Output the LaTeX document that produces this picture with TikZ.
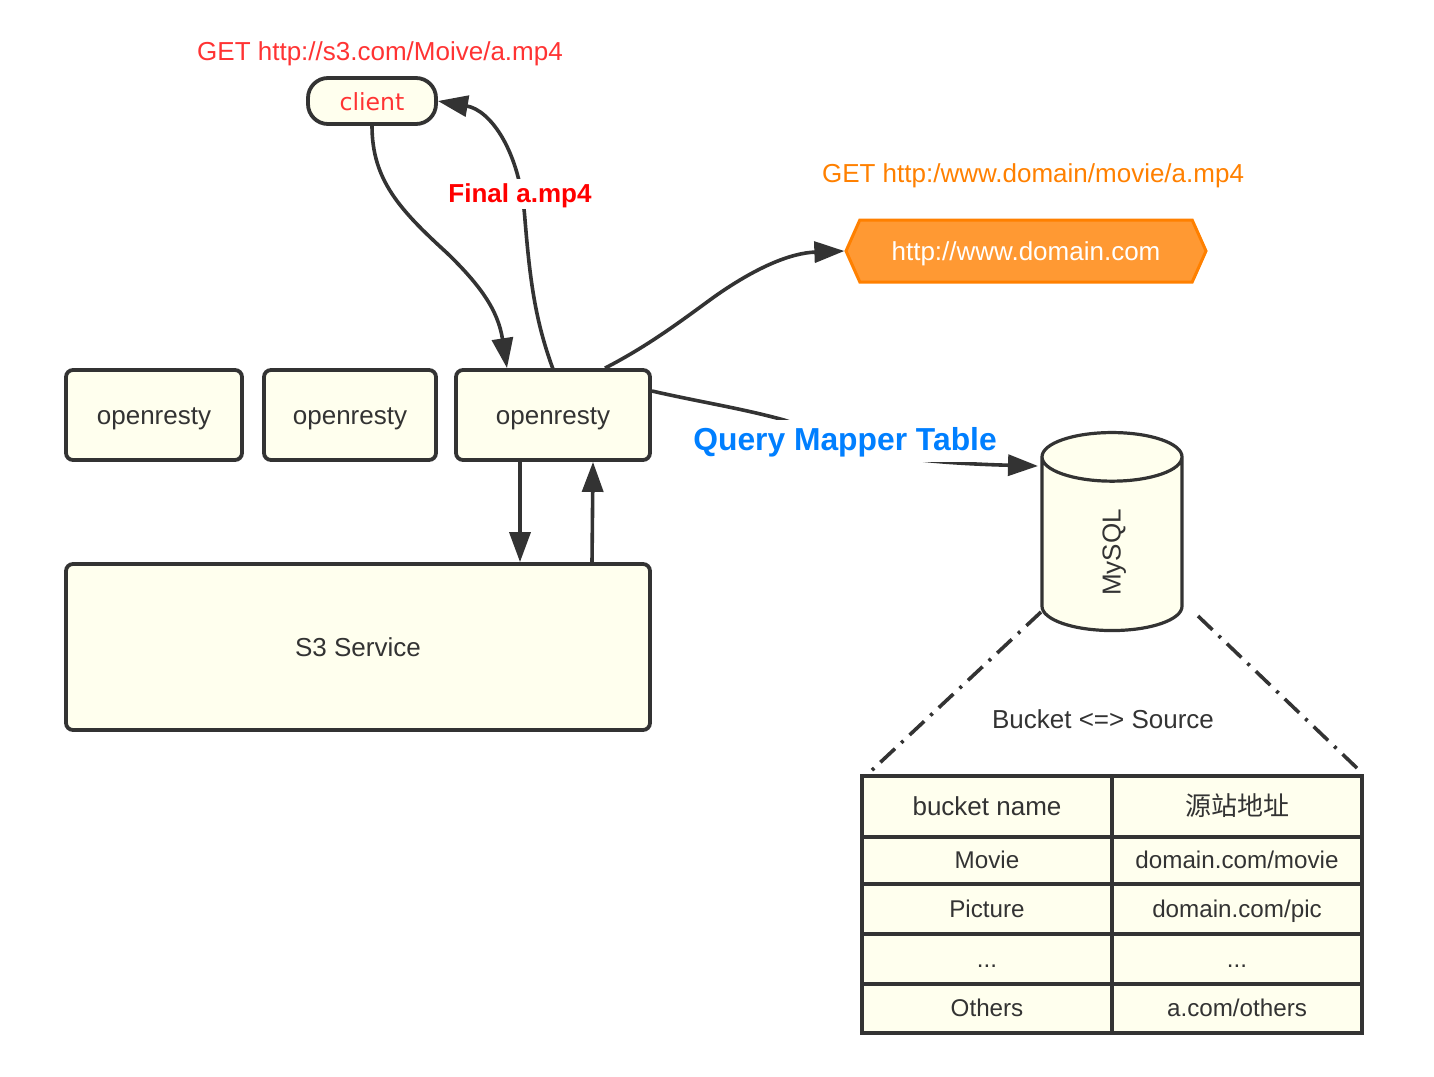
\documentclass[tikz,border=0pt]{standalone}
\usepackage{fontspec}
\setmainfont{Liberation Sans}
\newfontfamily\cjk{Noto Sans CJK SC}
\newfontfamily\dejavu{DejaVu Sans}
\usepackage{tikz}
\usetikzlibrary{arrows.meta,shapes.geometric,shapes.symbols}
\definecolor{boxfill}{HTML}{FFFFEE}
\definecolor{ink}{HTML}{333333}
\definecolor{getred}{HTML}{FF3333}
\definecolor{getorange}{HTML}{FF8000}
\definecolor{hexfill}{HTML}{FF9933}
\definecolor{queryblue}{HTML}{007FFF}
\tikzset{
  line13/.style={text height=9.5pt,text depth=0pt,font=\fontsize{13}{15}\selectfont},
  box/.style={draw=ink,fill=boxfill,line width=1.9pt,rounded corners=3.5pt,text=ink,line13,inner sep=0pt},
  cell/.style={draw=ink,fill=boxfill,line width=1.9pt,minimum width=125pt,inner sep=0pt,text=ink,text height=9pt,text depth=1pt,font=\fontsize{12.1}{15}\selectfont},
  conn/.style={draw=ink,line width=1.8pt,-{Triangle[length=15pt,width=10.5pt]}},
  plain/.style={text=ink,line13,inner sep=0pt},
  dashdot/.style={draw=ink,line width=1.8pt,dash pattern=on 10pt off 4.25pt on 1.5pt off 4.25pt},
}
\begin{document}
\begin{tikzpicture}[x=0.5pt,y=-0.5pt]
      \useasboundingbox (0,0) rectangle (1434,1076);
      % cajas
      \node[box,rounded corners=10pt,minimum width=64pt,minimum height=23pt,text=getred,font=\dejavu\fontsize{11.8}{15}\selectfont] (client) at (372,101) {client};
      \node[box,minimum width=88pt,minimum height=45pt] (op1) at (154,415) {openresty};
      \node[box,minimum width=86pt,minimum height=45pt] (op2) at (350,415) {openresty};
      \node[box,minimum width=97pt,minimum height=45pt] (op3) at (553,415) {openresty};
      \node[box,minimum width=292pt,minimum height=83pt] (s3) at (358,647) {S3 Service};
      \node[signal,signal to=west and east,signal pointer angle=132,draw=getorange,fill=hexfill,line width=1.5pt,text=white,inner sep=0pt,minimum width=180pt,minimum height=31pt,line13] (domain) at (1026,251) {http://www.domain.com};
      % base de datos
      \node[cylinder,rotate=90,aspect=1.7,draw=ink,fill=boxfill,line width=1.6pt,text=ink,inner sep=0pt,minimum width=70pt,minimum height=99pt,text height=11.5pt,text depth=2.8pt,font=\fontsize{13}{15}\selectfont] (mysql) at (1112,544.5) {MySQL\hspace*{8pt}};
      % tabla
      \node[cell,minimum height=30.5pt,text depth=0.5pt,font=\fontsize{13}{15}\selectfont] (head1) at (987,806.5) {bucket name};
      \node[cell,minimum height=30.5pt,text depth=0.5pt,font=\cjk\fontsize{13}{15}\selectfont] (head2) at (1237,806.5) {源站地址};
      \node[cell,minimum height=23.5pt] (movie1) at (987,860.5) {Movie};
      \node[cell,minimum height=23.5pt] (movie2) at (1237,860.5) {domain.com/movie};
      \node[cell,minimum height=25pt] (pic1) at (987,909) {Picture};
      \node[cell,minimum height=25pt] (pic2) at (1237,909) {domain.com/pic};
      \node[cell,minimum height=25pt] (dots1) at (987,959) {...};
      \node[cell,minimum height=25pt] (dots2) at (1237,959) {...};
      \node[cell,minimum height=24.5pt] (others1) at (987,1008.5) {Others};
      \node[cell,minimum height=24.5pt] (others2) at (1237,1008.5) {a.com/others};
      % flechas
      \draw[conn] (client.south) .. controls (372,180) and (400,210) .. (447,253) .. controls (480,285) and (498,310) .. ([xshift=-23pt]op3.north);
      \draw[conn] ([yshift=-0.5pt]op3.north) .. controls (535,320) and (530,280) .. (525,220) .. controls (520,150) and (490,110) .. (client.east);
      \draw[conn] ([xshift=26pt]op3.north) .. controls (650,345) and (685,318) .. (714,297) .. controls (755,268) and (790,253) .. (domain.west);
      \draw[conn] ([yshift=12pt]op3.east) .. controls (700,402) and (740,408) .. (784,420) .. controls (830,435) and (875,455) .. (921,460) .. controls (960,464) and (1000,465) .. (1038,466);
      \draw[conn] ([xshift=-16.5pt]op3.south) -- ([xshift=81pt]s3.north);
      \draw[conn] ([xshift=117pt]s3.north) -- ([xshift=20pt]op3.south);
      % rayas de la tabla
      \coordinate (cyll) at (1041,612);
      \coordinate (cylr) at (1198,616);
      \coordinate (tl) at (870,772);
      \coordinate (tr) at (1359,770);
      \draw[dashdot] (cyll) -- (tl);
      \draw[dashdot] (cylr) -- (tr);
      % textos
      \node[inner sep=0pt,text=getred,line13] (getclient) at (380,51) {GET http://s3.com/Moive/a.mp4};
      \node[inner sep=0pt,text=getorange,line13] (getdomain) at (1033,173) {GET http:/www.domain/movie/a.mp4};
      \node[fill=white,inner sep=1pt,text=red,text height=10.5pt,text depth=2.5pt,font=\bfseries\fontsize{13}{15}\selectfont] (final) at (520,194) {Final a.mp4};
      \node[fill=white,inner sep=0pt,minimum height=21pt,text=queryblue,text height=12pt,text depth=3pt,font=\bfseries\fontsize{15.9}{18}\selectfont] (query) at (845,441) {Query Mapper Table};
      \node[plain] (bucket) at (1103,719) {Bucket <=> Source};
\end{tikzpicture}
\end{document}
